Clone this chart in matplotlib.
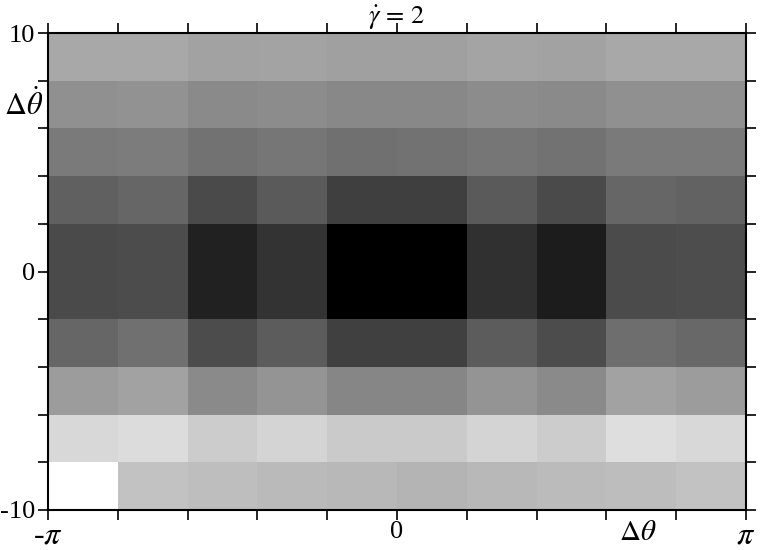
import numpy as np
import matplotlib
matplotlib.use("Agg")
import matplotlib.pyplot as plt

plt.rcParams['font.family'] = ['Liberation Serif', 'DejaVu Serif']
plt.rcParams['mathtext.fontset'] = 'stix'

# grey level of each cell (0 = black, 255 = white), rows listed from top (dθ/dt = 10) down
row_top = [168, 168, 162, 163, 160, 160, 164, 162, 168, 168]
row_2 = [144, 146, 138, 140, 136, 136, 140, 138, 144, 144]
row_3 = [122, 124, 114, 118, 112, 114, 118, 114, 122, 122]
row_4 = [96, 102, 74, 90, 63, 63, 90, 74, 102, 98]
row_5 = [74, 76, 33, 51, 0, 0, 48, 28, 75, 77]
row_6 = [74, 76, 33, 51, 0, 0, 48, 28, 75, 77]
row_7 = [102, 112, 76, 92, 64, 64, 92, 76, 110, 104]
row_8 = [156, 162, 138, 148, 134, 134, 148, 138, 162, 156]
row_9 = [216, 220, 204, 212, 202, 202, 212, 204, 222, 216]
row_bottom = [255, 194, 190, 186, 184, 180, 184, 187, 189, 194]

grey = np.array([row_top, row_2, row_3, row_4, row_5, row_6,
                 row_7, row_8, row_9, row_bottom])[::-1]

x_edges = np.linspace(-np.pi, np.pi, 11)
y_edges = np.linspace(-10, 10, 11)

fig = plt.figure(figsize=(7.78, 5.5), dpi=100)
ax = fig.add_axes([48/778, 1 - 510/550, 698/778, 477/550])
ax.pcolormesh(x_edges, y_edges, grey, cmap='gray', vmin=0, vmax=255)
ax.set_xlim(-np.pi, np.pi)
ax.set_ylim(-10, 10)

ax.set_xticks(x_edges)
xlabels = [''] * 11
xlabels[0] = '-$\\pi$'
xlabels[5] = '0'
xlabels[10] = '$\\pi$'
ax.set_xticklabels(xlabels, fontsize=19)
for i in (0, 10):
    ax.get_xticklabels()[i].set_fontsize(23)
ax.set_yticks(y_edges)
ylabels = [''] * 11
ylabels[0] = '-10'
ylabels[5] = '0'
ylabels[10] = '10'
ax.set_yticklabels(ylabels, fontsize=19)

ax.tick_params(direction='out', length=7, width=1.2,
               top=True, right=True, labeltop=False, labelright=False)
ax.tick_params(axis='y', pad=2)
ax.tick_params(axis='x', pad=1)
for s in ax.spines.values():
    s.set_linewidth(1.5)

# axis names sit among the tick labels
ax.set_xticks([0.69 * np.pi], ['$\\Delta\\theta$'], minor=True)
ax.tick_params(axis='x', which='minor', length=0, pad=7, labelsize=21)
ax.text(-np.pi - 0.045, 6.94, '$\\Delta\\dot{\\theta}$', fontsize=22,
        ha='right', va='center')
ax.text(0, 1 + 9/477, '$\\dot{\\gamma}\\,=\\,2$', fontsize=19,
        ha='center', va='baseline', transform=ax.get_xaxis_transform())

fig.savefig('out.png', dpi=100)
